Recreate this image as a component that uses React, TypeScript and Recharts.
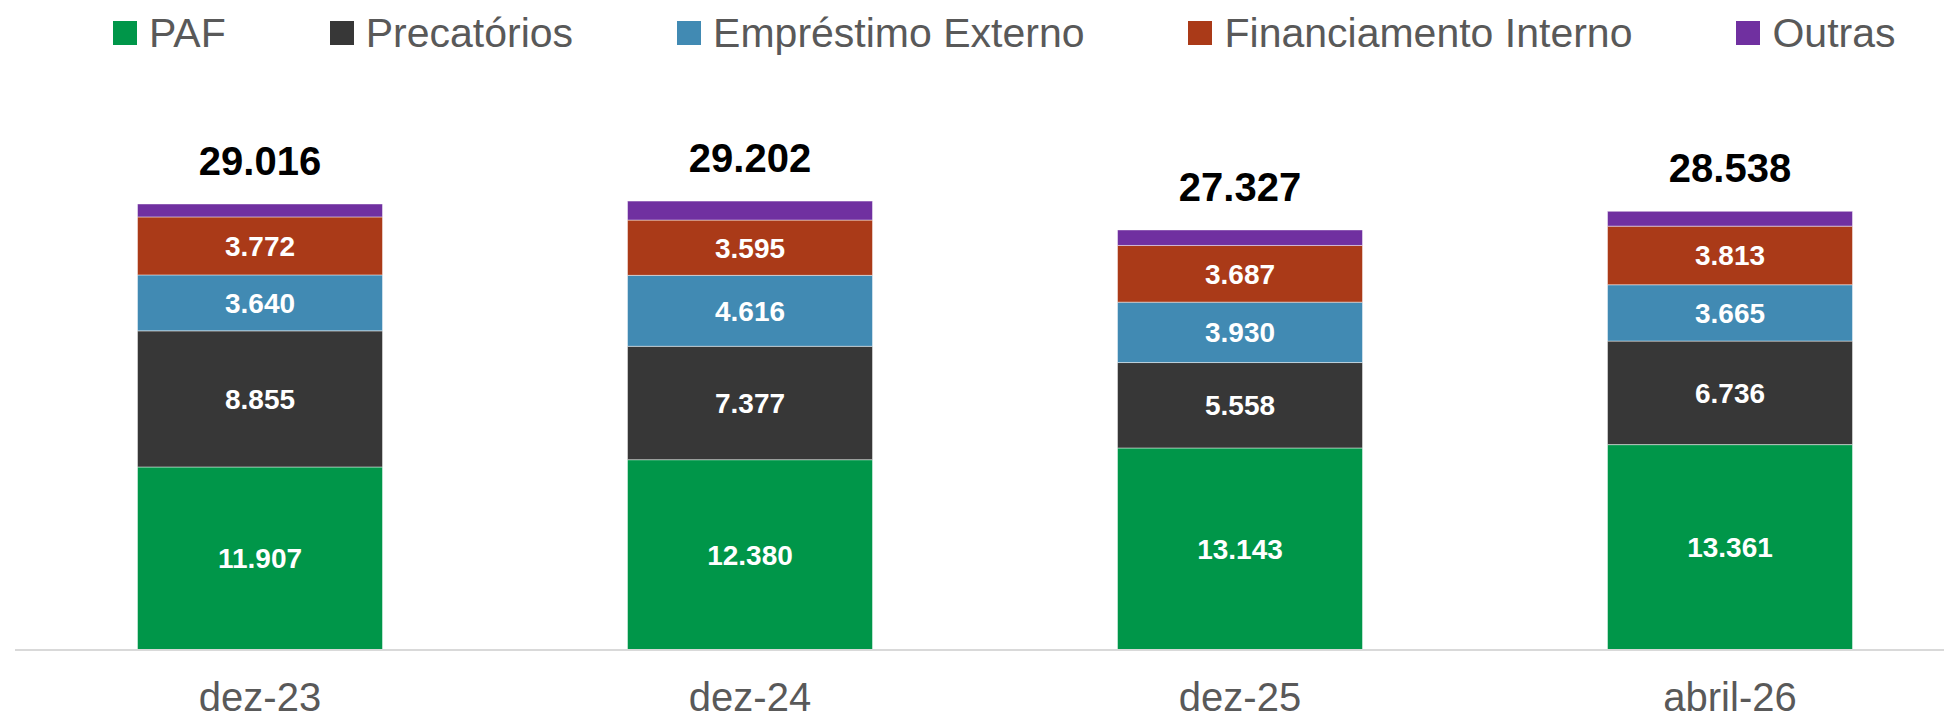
import React from 'react';
import { BarChart, Bar, XAxis, YAxis, Legend, LabelList } from 'recharts';

// values in R$ millions
const categories = ['dez-23', 'dez-24', 'dez-25', 'abril-26'];
const paf = [11907, 12380, 13143, 13361];
const precatorios = [8855, 7377, 5558, 6736];
const emprestimoExterno = [3640, 4616, 3930, 3665];
const financiamentoInterno = [3772, 3595, 3687, 3813];
const outras = [842, 1234, 1009, 963];
const totals = [29016, 29202, 27327, 28538];

const series = [
  { key: 'paf', name: 'PAF', color: '#009649' },
  { key: 'precatorios', name: 'Precatórios', color: '#373737' },
  { key: 'emprestimoExterno', name: 'Empréstimo Externo', color: '#418AB3' },
  { key: 'financiamentoInterno', name: 'Financiamento Interno', color: '#AA3A18' },
  { key: 'outras', name: 'Outras', color: '#7030A0' },
];

const data = categories.map((name, i) => ({
  name,
  paf: paf[i],
  precatorios: precatorios[i],
  emprestimoExterno: emprestimoExterno[i],
  financiamentoInterno: financiamentoInterno[i],
  outras: outras[i],
  total: totals[i],
}));

const FONT = '"Liberation Sans", Arial, sans-serif';

const fmt = (v: any) => String(v).replace(/\B(?=(\d{3})+(?!\d))/g, '.');

const LegendContent = () => (
  <div style={{ display: 'flex', paddingLeft: 113, paddingTop: 13, fontFamily: FONT }}>
    {series.map((s, i) => (
      <div
        key={s.key}
        style={{ display: 'flex', alignItems: 'center', marginRight: i < series.length - 1 ? 104 : 0 }}
      >
        <span style={{ width: 24, height: 24, background: s.color, display: 'inline-block' }} />
        <span style={{ marginLeft: 12, fontSize: 41, lineHeight: '40px', color: '#595959', whiteSpace: 'nowrap' }}>
          {s.name}
        </span>
      </div>
    ))}
  </div>
);

export default function App() {
  return (
    <div style={{ margin: -8, width: 1952, height: 721, overflow: 'hidden', position: 'relative', background: '#fff' }}>
      <BarChart
        width={1990}
        height={721}
        data={data}
        margin={{ top: 112, right: 15, bottom: 0, left: 15 }}
        barCategoryGap="25%"
      >
        <Legend
          verticalAlign="middle"
          align="center"
          layout="horizontal"
          wrapperStyle={{ top: 0, left: 0, width: 1952 }}
          content={<LegendContent />}
        />
        <XAxis
          dataKey="name"
          height={71}
          tickLine={false}
          tickSize={0}
          tickMargin={33}
          axisLine={{ stroke: '#d9d9d9', strokeWidth: 2 }}
          tick={{ fill: '#595959', fontSize: 40, fontFamily: FONT }}
        />
        <YAxis hide domain={[0, 35000]} />
        {series.map((s) => (
          <Bar
            key={s.key}
            dataKey={s.key}
            name={s.name}
            stackId="a"
            fill={s.color}
            stroke="rgba(255,255,255,0.45)"
            strokeWidth={1}
            isAnimationActive={false}
          >
            {s.key !== 'outras' && (
              <LabelList
                dataKey={s.key}
                position="center"
                formatter={fmt}
                fill="#ffffff"
                fontSize={28}
                fontWeight="bold"
                fontFamily={FONT}
              />
            )}
            {s.key === 'outras' && (
              <LabelList
                dataKey="total"
                position="top"
                offset={29}
                formatter={fmt}
                fill="#000000"
                fontSize={40}
                fontWeight="bold"
                fontFamily={FONT}
              />
            )}
          </Bar>
        ))}
      </BarChart>
    </div>
  );
}
